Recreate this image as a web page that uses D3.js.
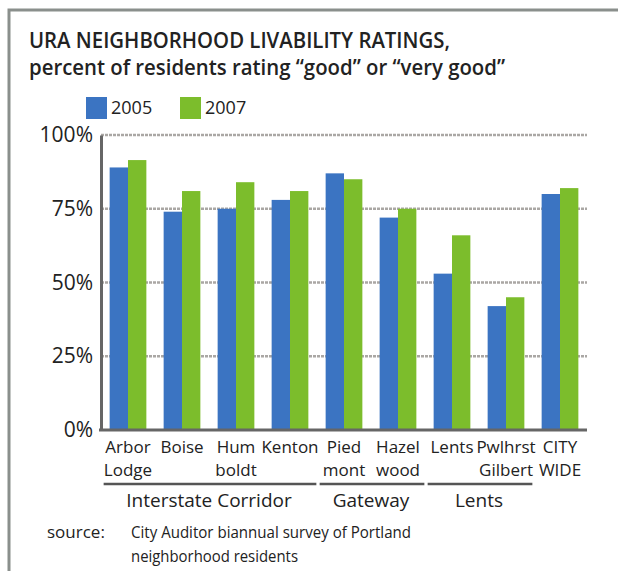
<!DOCTYPE html>
<html>
<head>
<meta charset="utf-8">
<script src="https://cdn.jsdelivr.net/npm/d3@7"></script>
<style>
  body { margin: 0; background: #fff; }
  text { font-family: "Open Sans", sans-serif; fill: #222; }
</style>
</head>
<body>
<div id="chart-area"></div>
<script>
var width = 618,
    height = 571;

// data
var hoods = ["Arbor|Lodge", "Boise", "Hum|boldt", "Kenton", "Pied|mont", "Hazel|wood", "Lents", "Pwlhrst|Gilbert", "CITY|WIDE"];
var years = ["2005", "2007"];
var vals2005 = [89, 74, 75, 78, 87, 72, 53, 42, 80];
var vals2007 = [91.5, 81, 84, 81, 85, 75, 66, 45, 82];
var yTicks = [0, 25, 50, 75, 100];
var groups = [
  {name: "Interstate Corridor", from: 0, to: 3},
  {name: "Gateway", from: 4, to: 5},
  {name: "Lents", from: 6, to: 7}
];

var colors = ["#3b74c2", "#7cbd2c"];

var svg = d3.select("#chart-area").append("svg")
    .attr("width", width)
    .attr("height", height);

// frame (only top and left show)
svg.append("path")
  .attr("d", "M9,571 V10 H618")
  .attr("fill", "none")
  .attr("stroke", "#8a8f8c")
  .attr("stroke-width", 3);

// title - squeezed a bit to match the narrower original face
svg.append("text")
  .attr("x", 29).attr("y", 48)
  .attr("textLength", 421).attr("lengthAdjust", "spacingAndGlyphs")
  .style("font-size", "22px").style("font-weight", 600)
  .text("URA NEIGHBORHOOD LIVABILITY RATINGS,");
svg.append("text")
  .attr("x", 29).attr("y", 75)
  .attr("textLength", 476).attr("lengthAdjust", "spacingAndGlyphs")
  .style("font-size", "22px").style("font-weight", 600)
  .text("percent of residents rating \u201cgood\u201d or \u201cvery good\u201d");

// scales
var x = d3.scaleBand()
  .domain(d3.range(hoods.length))
  .range([101, 587])
  .paddingInner(0.32)
  .paddingOuter(0.16);

var xSub = d3.scaleBand()
  .domain(years)
  .range([0, x.bandwidth()]);

var y = d3.scaleLinear()
  .domain([0, 100])
  .range([430, 135]);

// legend
var legend = svg.selectAll(".legend")
  .data(years)
  .enter()
  .append("g")
  .attr("transform", (d, i) => "translate(" + (86 + i * 94) + ",97)");
legend.append("rect")
  .attr("width", 21).attr("height", 22)
  .attr("fill", (d, i) => colors[i]);
legend.append("text")
  .attr("x", 25).attr("y", 17)
  .style("font-size", "18px")
  .text(d => d);

// gridlines
svg.selectAll(".grid")
  .data(yTicks.filter(d => d > 0))
  .enter()
  .append("line")
  .attr("x1", 101).attr("x2", 587)
  .attr("y1", d => y(d)).attr("y2", d => y(d))
  .attr("stroke", "#aaa7a4")
  .attr("stroke-width", 2.5)
  .attr("stroke-dasharray", "3,1");

// y axis
var yAxis = svg.append("g")
  .attr("transform", "translate(101,0)")
  .call(d3.axisLeft(y).tickValues(yTicks).tickSize(0).tickPadding(8).tickFormat(d => d + "%"));
yAxis.select(".domain").attr("stroke", "#666").attr("stroke-width", 3);
yAxis.selectAll("text")
  .style("font-family", "Open Sans, sans-serif")
  .style("font-size", "21px")
  .attr("fill", "#222");

// bars
var rows = hoods.map((h, i) => ({i: i, vals: [vals2005[i], vals2007[i]]}));
var grp = svg.selectAll(".hood")
  .data(rows)
  .enter()
  .append("g")
  .attr("transform", d => "translate(" + x(d.i) + ",0)");
grp.selectAll("rect")
  .data(d => d.vals.map((v, k) => ({year: years[k], v: v, k: k})))
  .enter()
  .append("rect")
  .attr("x", d => xSub(d.year))
  .attr("width", xSub.bandwidth())
  .attr("y", d => y(d.v))
  .attr("height", d => y(0) - y(d.v))
  .attr("fill", d => colors[d.k]);

// x axis line
svg.append("line")
  .attr("x1", 99).attr("x2", 587)
  .attr("y1", y(0)).attr("y2", y(0))
  .attr("stroke", "#666")
  .attr("stroke-width", 3);

// category labels
var lab = svg.selectAll(".lab")
  .data(hoods)
  .enter()
  .append("text")
  .attr("text-anchor", "middle")
  .style("font-size", "17px")
  .attr("transform", (d, i) => "translate(" + (x(i) + x.bandwidth() / 2) + ",0)");
lab.selectAll("tspan")
  .data(d => d.split("|"))
  .enter()
  .append("tspan")
  .attr("x", 0)
  .attr("y", (d, i) => 453 + i * 23)
  .text(d => d);

// group underlines and names
svg.selectAll(".gline")
  .data(groups)
  .enter()
  .append("line")
  .attr("x1", d => x(d.from) - 6)
  .attr("x2", d => x(d.to) + x.bandwidth() + 8)
  .attr("y1", 484).attr("y2", 484)
  .attr("stroke", "#555")
  .attr("stroke-width", 2.5);
svg.selectAll(".gname")
  .data(groups)
  .enter()
  .append("text")
  .attr("text-anchor", "middle")
  .attr("x", d => (x(d.from) + x(d.to) + x.bandwidth()) / 2)
  .attr("y", 507)
  .style("font-size", "19px")
  .text(d => d.name);

// source note
svg.append("text")
  .attr("x", 47).attr("y", 538)
  .style("font-size", "17px").attr("fill", "#333")
  .text("source:");
svg.append("text")
  .attr("x", 131).attr("y", 538)
  .attr("textLength", 280).attr("lengthAdjust", "spacingAndGlyphs")
  .style("font-size", "17px").attr("fill", "#333")
  .text("City Auditor biannual survey of Portland");
svg.append("text")
  .attr("x", 131).attr("y", 562)
  .attr("textLength", 167).attr("lengthAdjust", "spacingAndGlyphs")
  .style("font-size", "17px").attr("fill", "#333")
  .text("neighborhood residents");
</script>
</body>
</html>
